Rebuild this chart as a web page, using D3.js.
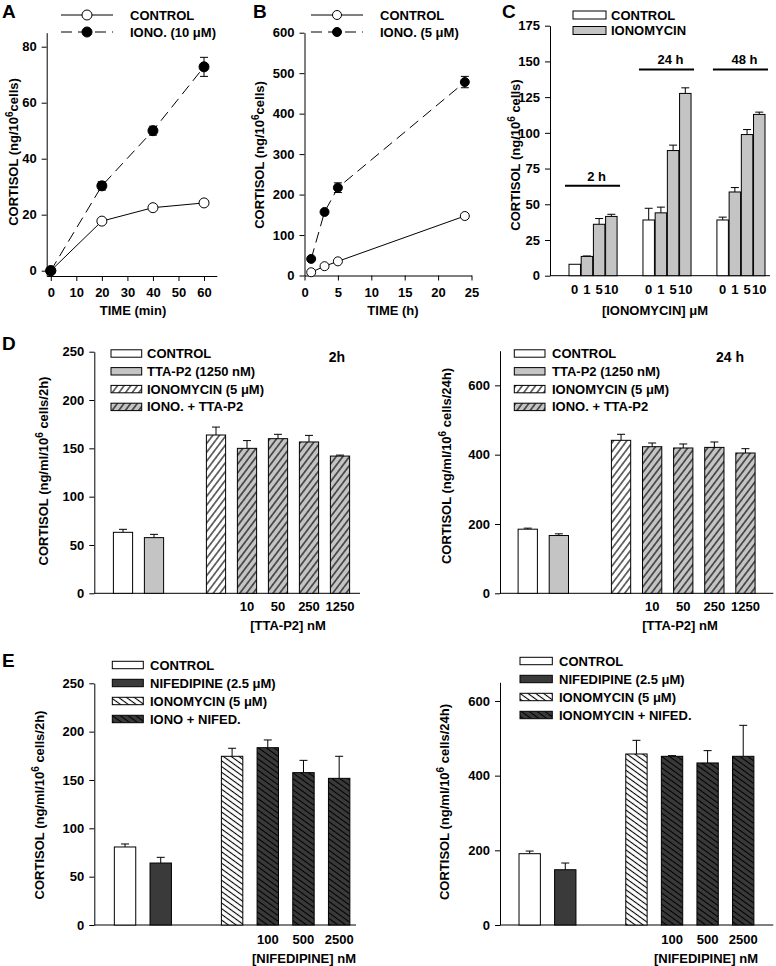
<!DOCTYPE html>
<html>
<head>
<meta charset="utf-8">
<title>Cortisol</title>
<script src="https://cdn.jsdelivr.net/npm/d3@7"></script>
<style>
  body { margin: 0; background: #fff; }
  svg { display: block; font-family: "Liberation Sans", Arial, sans-serif; font-weight: bold; }
</style>
</head>
<body>
<svg id="fig" width="776" height="966"></svg>
<script>
// ---- data ----
// A: time course, 10 uM ionomycin
const aTime = [0, 20, 40, 60];
const aControl = [0, 17.7, 22.5, 24.2];
const aIono = [0, 30.3, 50, 72.8];
const aIonoErr = [0, 1.5, 1.6, 3.4];
// B: time course, 5 uM ionomycin
const bTime = [1, 3, 5, 24];
const bControl = [8, 23, 35, 147];
const bIono = [41, 157, 217, 478];
const bIonoErr = [0, 0, 12, 14];
// C: dose response at 2, 24, 48 h
const cGroups = ["2 h", "24 h", "48 h"];
const cDoses = ["0", "1", "5", "10"];
const cValues = [[8, 13.5, 36, 41.5], [39, 44, 87.6, 127.6], [39, 58.6, 98.8, 112.9]];
const cErrors = [[0, 0.3, 4, 1.5], [8.2, 4, 3.8, 3.9], [2, 3.1, 3.5, 1.6]];
// D: TTA-P2
const dSlots = ["control", "tta", "gap", "iono", "10", "50", "250", "1250"];
const dBars = ["control", "tta", "iono", "10", "50", "250", "1250"];
const dKinds = ["control", "drug", "iono", "combo", "combo", "combo", "combo"];
const dTickLabels = ["", "", "", "10", "50", "250", "1250"];
const dLegend = ["CONTROL", "TTA-P2 (1250 nM)", "IONOMYCIN (5 \u03bcM)", "IONO. + TTA-P2"];
const d2hValues = [63.1, 57.6, 163.8, 150, 160, 156.6, 142];
const d2hErrors = [3.1, 3.4, 8.2, 8, 4.5, 6.8, 1];
const d24hValues = [185, 166.7, 441.4, 423, 419.3, 421, 404.8];
const d24hErrors = [3, 4.9, 17.4, 10.7, 11.5, 15.6, 12.5];
// E: nifedipine
const eSlots = ["control", "nif", "gap", "iono", "100", "500", "2500"];
const eBars = ["control", "nif", "iono", "100", "500", "2500"];
const eKinds = ["control", "drug", "iono", "combo", "combo", "combo"];
const eTickLabels = ["", "", "", "100", "500", "2500"];
const e2hLegend = ["CONTROL", "NIFEDIPINE (2.5 \u03bcM)", "IONOMYCIN (5 \u03bcM)", "IONO + NIFED."];
const e24hLegend = ["CONTROL", "NIFEDIPINE (2.5 \u03bcM)", "IONOMYCIN (5 \u03bcM)", "IONOMYCIN + NIFED."];
const e2hValues = [80.7, 64.1, 174.5, 183.4, 157.6, 151.7];
const e2hErrors = [3.1, 5.9, 8.3, 8, 12.7, 22.8];
const e24hValues = [191, 148, 458, 451.8, 434, 451.8];
const e24hErrors = [7, 18, 36.6, 1.8, 33, 83];

const FS = 13;
const GRAY = "#c4c4c4";
const DARK = "#3a3a3a";
const svg = d3.select("#fig");

// hatch patterns
const defs = svg.append("defs");
function hatch(id, bg, angle, gap) {
  const p = defs.append("pattern").attr("id", id)
    .attr("patternUnits", "userSpaceOnUse")
    .attr("width", gap).attr("height", gap)
    .attr("patternTransform", `rotate(${angle})`);
  p.append("rect").attr("width", gap).attr("height", gap).attr("fill", bg);
  p.append("line").attr("x1", gap / 2).attr("x2", gap / 2).attr("y1", 0).attr("y2", gap)
    .attr("stroke", "#000").attr("stroke-width", 1.1);
}
hatch("fwdWhite", "#fff", 37, 5.3);
hatch("fwdGray", GRAY, 37, 5.3);
hatch("backWhite", "#fff", -54, 4.6);
hatch("backDark", DARK, -54, 4.6);
const dFill = { control: "#fff", drug: GRAY, iono: "url(#fwdWhite)", combo: "url(#fwdGray)" };
const eFill = { control: "#fff", drug: DARK, iono: "url(#backWhite)", combo: "url(#backDark)" };

function styleAxis(g) {
  g.attr("font-family", null).attr("font-size", FS).attr("font-weight", "bold");
  g.selectAll("path, line").attr("stroke", "#000").attr("stroke-width", 1);
  g.selectAll("text").attr("fill", "#000");
}

function label(text, x, y, anchor, size) {
  return svg.append("text").attr("x", x).attr("y", y)
    .attr("text-anchor", anchor || "start").attr("font-size", size || FS).text(text);
}

// rotated y title with superscript 6
function yTitle(parts, cx, cy) {
  const t = svg.append("text").attr("transform", `translate(${cx},${cy}) rotate(-90)`)
    .attr("text-anchor", "middle").attr("font-size", FS);
  t.append("tspan").text(parts[0]);
  t.append("tspan").attr("dy", -5).attr("font-size", 10).text("6");
  t.append("tspan").attr("dy", 5).text(parts[1]);
}

function panelLetter(ch, x, y) {
  label(ch, x, y, "start", 19);
}

// ---------- line panels A & B ----------
function linePanel(o) {
  const x = d3.scaleLinear().domain(o.xDomain).range([o.left, o.right]);
  const y = d3.scaleLinear().domain(o.yDomain).range([o.bottom, o.top]);
  const g = svg.append("g");

  g.append("g").attr("transform", `translate(0,${o.bottom})`)
    .call(d3.axisBottom(x).tickValues(o.xTicks).tickSize(5).tickPadding(7).tickSizeOuter(0))
    .call(styleAxis);
  g.append("g").attr("transform", `translate(${o.left},0)`)
    .call(d3.axisLeft(y).tickValues(o.yTicks).tickSize(5).tickPadding(5).tickSizeOuter(0))
    .call(styleAxis);

  const line = d3.line().x((d, i) => x(o.time[i])).y(d => y(d));
  g.append("path").datum(o.control).attr("d", line)
    .attr("fill", "none").attr("stroke", "#000").attr("stroke-width", 1);
  g.append("path").datum(o.iono).attr("d", line)
    .attr("fill", "none").attr("stroke", "#000").attr("stroke-width", 1)
    .attr("stroke-dasharray", "11,6");

  // error bars
  o.iono.forEach((v, i) => {
    const e = o.err[i];
    if (!e) return;
    const cx = x(o.time[i]);
    g.append("line").attr("x1", cx).attr("x2", cx).attr("y1", y(v - e)).attr("y2", y(v + e)).attr("stroke", "#000");
    [v - e, v + e].forEach(w => g.append("line").attr("x1", cx - 4).attr("x2", cx + 4)
      .attr("y1", y(w)).attr("y2", y(w)).attr("stroke", "#000"));
  });

  g.selectAll(".ctrl").data(o.control).join("circle").attr("class", "ctrl")
    .attr("cx", (d, i) => x(o.time[i])).attr("cy", d => y(d)).attr("r", o.r)
    .attr("fill", "#fff").attr("stroke", "#000");
  g.selectAll(".iono").data(o.iono).join("circle").attr("class", "iono")
    .attr("cx", (d, i) => x(o.time[i])).attr("cy", d => y(d)).attr("r", o.r)
    .attr("fill", "#000").attr("stroke", "#000");

  // legend
  const L = o.legend;
  [[o.legendLabels[0], "#fff", null], [o.legendLabels[1], "#000", "11,6"]].forEach((r, i) => {
    const ly = L.y + i * L.dy;
    g.append("line").attr("x1", L.x0).attr("x2", L.x1).attr("y1", ly).attr("y2", ly)
      .attr("stroke", "#000").attr("stroke-dasharray", r[2]);
    g.append("circle").attr("cx", (L.x0 + L.x1) / 2).attr("cy", ly).attr("r", o.r)
      .attr("fill", r[1]).attr("stroke", "#000");
    label(r[0], L.tx, ly + 4.5);
  });

  label(o.xTitle, o.xTitleX, o.xTitleY, "middle");
  yTitle(["CORTISOL (ng/10", "cells)"], o.yTitleX, o.yTitleY);
}

linePanel({
  left: 46.7, right: 216.8, top: 32.7, bottom: 276,
  xDomain: [-1.6, 65], yDomain: [-1.9, 85],
  xTicks: d3.range(0, 61, 10), yTicks: d3.range(0, 81, 20),
  time: aTime, control: aControl, iono: aIono, err: aIonoErr, r: 5,
  legend: { x0: 61, x1: 113, y: 15, dy: 17, tx: 130 },
  legendLabels: ["CONTROL", "IONO. (10 \u03bcM)"],
  xTitle: "TIME (min)", xTitleX: 133, xTitleY: 315,
  yTitleX: 18, yTitleY: 152
});
panelLetter("A", 2, 18);

linePanel({
  left: 304.5, right: 471.5, top: 32.7, bottom: 275.5,
  xDomain: [0, 25], yDomain: [0, 600],
  xTicks: d3.range(0, 26, 5), yTicks: d3.range(0, 601, 100),
  time: bTime, control: bControl, iono: bIono, err: bIonoErr, r: 4.5,
  legend: { x0: 311, x1: 363, y: 15, dy: 17, tx: 380 },
  legendLabels: ["CONTROL", "IONO. (5 \u03bcM)"],
  xTitle: "TIME (h)", xTitleX: 393, xTitleY: 315,
  yTitleX: 264, yTitleY: 155
});
panelLetter("B", 253, 18);

// ---------- panel C ----------
(function () {
  const left = 550, right = 770, top = 25.7, bottom = 275.7;
  const y = d3.scaleLinear().domain([0, 175]).range([bottom, top]);
  const gx = d3.scaleBand().domain(cGroups).range([569, 765]).paddingInner(0.35).paddingOuter(0);
  const bx = d3.scaleBand().domain(cDoses).range([0, gx.bandwidth()]).paddingInner(0.06);
  const g = svg.append("g");

  g.append("g").attr("transform", `translate(${left},0)`)
    .call(d3.axisLeft(y).tickValues(d3.range(0, 176, 25)).tickSize(5).tickPadding(5).tickSizeOuter(0))
    .call(styleAxis);
  g.append("line").attr("x1", left).attr("x2", right).attr("y1", bottom).attr("y2", bottom).attr("stroke", "#000");

  cGroups.forEach((grp, gi) => {
    const gg = g.append("g").attr("transform", `translate(${gx(grp)},0)`);
    cDoses.forEach((dose, di) => {
      const v = cValues[gi][di], e = cErrors[gi][di];
      const bxp = bx(dose), w = bx.bandwidth();
      if (e > 0) {
        gg.append("line").attr("x1", bxp + w / 2).attr("x2", bxp + w / 2)
          .attr("y1", y(v)).attr("y2", y(v + e)).attr("stroke", "#000");
        gg.append("line").attr("x1", bxp + w / 2 - 4).attr("x2", bxp + w / 2 + 4)
          .attr("y1", y(v + e)).attr("y2", y(v + e)).attr("stroke", "#000");
      }
      gg.append("rect").attr("x", bxp).attr("width", w).attr("y", y(v)).attr("height", y(0) - y(v))
        .attr("fill", di === 0 ? "#fff" : GRAY).attr("stroke", "#000");
      gg.append("text").attr("x", bxp + w / 2).attr("y", 294).attr("text-anchor", "middle")
        .attr("font-size", FS).text(dose);
    });
    // time bracket
    const lv = gi === 0 ? 63 : 144.4;
    const x0 = gx(grp) - 4, x1 = gx(grp) + gx.bandwidth() + 3;
    g.append("line").attr("x1", x0).attr("x2", x1).attr("y1", y(lv)).attr("y2", y(lv))
      .attr("stroke", "#000").attr("stroke-width", 2);
    label(grp, (x0 + x1) / 2 + 4, y(lv) - 5, "middle");
  });

  // legend
  ["CONTROL", "IONOMYCIN"].forEach((t, i) => {
    const ly = 15 + i * 15.5;
    g.append("rect").attr("x", 573).attr("y", ly - 4).attr("width", 33).attr("height", 8)
      .attr("fill", i ? GRAY : "#fff").attr("stroke", "#000");
    label(t, 611, ly + 4.5);
  });
  label("[IONOMYCIN] \u03bcM", 655, 315, "middle");
  yTitle(["CORTISOL (ng/10", " cells)"], 520, 155);
  panelLetter("C", 502, 18);
})();

// ---------- bar panels D & E ----------
function barPanel(o) {
  const y = d3.scaleLinear().domain([0, o.yMax]).range([o.bottom, o.top]);
  const x = d3.scaleBand().domain(o.slots).range(o.band).paddingInner(o.pad).paddingOuter(o.pad / 2);
  const g = svg.append("g");

  g.append("g").attr("transform", `translate(${o.left},0)`)
    .call(d3.axisLeft(y).tickValues(o.yTicks).tickSize(5).tickPadding(5).tickSizeOuter(0))
    .call(styleAxis);
  g.append("line").attr("x1", o.left).attr("x2", o.right).attr("y1", o.bottom).attr("y2", o.bottom).attr("stroke", "#000");

  o.bars.forEach((b, i) => {
    const v = o.values[i], e = o.errors[i];
    const cx = x(b) + x.bandwidth() / 2;
    g.append("line").attr("x1", cx).attr("x2", cx).attr("y1", y(v)).attr("y2", y(v + e)).attr("stroke", "#000");
    g.append("line").attr("x1", cx - 4).attr("x2", cx + 4).attr("y1", y(v + e)).attr("y2", y(v + e)).attr("stroke", "#000");
    g.append("rect").attr("x", x(b)).attr("width", x.bandwidth()).attr("y", y(v)).attr("height", y(0) - y(v))
      .attr("fill", o.fills[o.kinds[i]]).attr("stroke", "#000");
    if (o.tickLabels[i]) {
      g.append("text").attr("x", cx).attr("y", o.tickY).attr("text-anchor", "middle")
        .attr("font-size", FS).text(o.tickLabels[i]);
    }
  });

  const L = o.legend;
  ["control", "drug", "iono", "combo"].forEach((k, i) => {
    const ly = L.y + i * L.dy;
    g.append("rect").attr("x", L.x).attr("y", ly - 3.7).attr("width", L.w).attr("height", 7.4)
      .attr("fill", o.fills[k]).attr("stroke", "#000");
    label(o.legendLabels[i], L.tx, ly + 4.5);
  });

  if (o.note) label(o.note, o.noteX, o.noteY, "middle", 14);
  label(o.xTitle, o.xTitleX, o.xTitleY, "middle");
  yTitle(o.yTitle, o.yTitleX, o.yTitleY);
}

barPanel({
  left: 94.3, right: 360, top: 351.7, bottom: 593.3, yMax: 250, yTicks: d3.range(0, 251, 50),
  slots: dSlots, band: [107.5, 355.5], pad: 0.38,
  bars: dBars, values: d2hValues, errors: d2hErrors, kinds: dKinds, fills: dFill,
  tickLabels: dTickLabels, tickY: 611,
  legend: { x: 111, w: 30.7, y: 353.5, dy: 17.8, tx: 147 }, legendLabels: dLegend,
  note: "2h", noteX: 337, noteY: 362,
  xTitle: "[TTA-P2] nM", xTitleX: 288, xTitleY: 630,
  yTitle: ["CORTISOL (ng/ml/10", " cells/2h)"], yTitleX: 48, yTitleY: 471
});
panelLetter("D", 2, 350);

barPanel({
  left: 500, right: 773.3, top: 350.7, bottom: 593.3, yMax: 700, yTicks: d3.range(0, 601, 200),
  slots: dSlots, band: [512.2, 761], pad: 0.38,
  bars: dBars, values: d24hValues, errors: d24hErrors, kinds: dKinds, fills: dFill,
  tickLabels: dTickLabels, tickY: 611,
  legend: { x: 514.3, w: 30.7, y: 353.5, dy: 17.8, tx: 552 }, legendLabels: dLegend,
  note: "24 h", noteX: 730, noteY: 362,
  xTitle: "[TTA-P2] nM", xTitleX: 680, xTitleY: 630,
  yTitle: ["CORTISOL (ng/ml/10", " cells/24h)"], yTitleX: 451, yTitleY: 466
});

barPanel({
  left: 94.3, right: 356, top: 683.3, bottom: 925, yMax: 250, yTicks: d3.range(0, 251, 50),
  slots: eSlots, band: [107.2, 357], pad: 0.4,
  bars: eBars, values: e2hValues, errors: e2hErrors, kinds: eKinds, fills: eFill,
  tickLabels: eTickLabels, tickY: 944,
  legend: { x: 112.3, w: 31, y: 665, dy: 18, tx: 150 }, legendLabels: e2hLegend,
  xTitle: "[NIFEDIPINE] nM", xTitleX: 304, xTitleY: 963,
  yTitle: ["CORTISOL (ng/ml/10", " cells/2h)"], yTitleX: 44, yTitleY: 805
});
panelLetter("E", 2, 667);

barPanel({
  left: 500, right: 773.3, top: 682.3, bottom: 925, yMax: 650, yTicks: d3.range(0, 601, 200),
  slots: eSlots, band: [511.9, 761], pad: 0.4,
  bars: eBars, values: e24hValues, errors: e24hErrors, kinds: eKinds, fills: eFill,
  tickLabels: eTickLabels, tickY: 944,
  legend: { x: 520, w: 32.3, y: 661, dy: 18, tx: 559 }, legendLabels: e24hLegend,
  xTitle: "[NIFEDIPINE] nM", xTitleX: 706, xTitleY: 963,
  yTitle: ["CORTISOL (ng/ml/10", " cells/24h)"], yTitleX: 449, yTitleY: 802
});
</script>
</body>
</html>
